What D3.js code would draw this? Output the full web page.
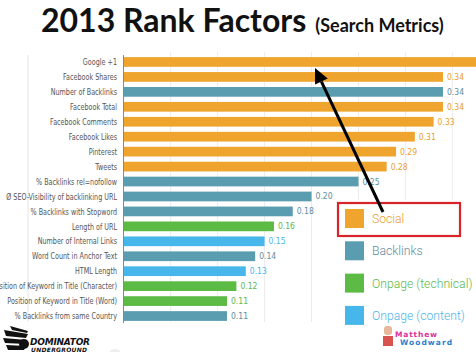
<!DOCTYPE html>
<html>
<head>
<meta charset="utf-8">
<script src="https://cdn.jsdelivr.net/npm/d3@7"></script>
<style>
  body { margin: 0; background: #fff; }
  svg { display: block; }
</style>
</head>
<body>
<div id="chart"></div>
<script>
// factor names, top to bottom
var factors = [
  "Google +1", "Facebook Shares", "Number of Backlinks", "Facebook Total",
  "Facebook Comments", "Facebook Likes", "Pinterest", "Tweets",
  "% Backlinks rel=nofollow", "Ø SEO-Visibility of backlinking URL",
  "% Backlinks with Stopword", "Length of URL", "Number of Internal Links",
  "Word Count in Anchor Text", "HTML Length",
  "Position of Keyword in Title (Character)", "Position of Keyword in Title (Word)",
  "% Backlinks from same Country"
];
var values = [0.38, 0.34, 0.34, 0.34, 0.33, 0.31, 0.29, 0.28, 0.25, 0.20,
  0.18, 0.16, 0.15, 0.14, 0.13, 0.12, 0.11, 0.11];
var groups = ["Social", "Social", "Backlinks", "Social", "Social", "Social",
  "Social", "Social", "Backlinks", "Backlinks", "Backlinks", "Onpage (technical)",
  "Onpage (content)", "Backlinks", "Onpage (content)", "Onpage (technical)",
  "Onpage (technical)", "Backlinks"];
var groupNames = ["Social", "Backlinks", "Onpage (technical)", "Onpage (content)"];
var gridTicks = [0.05, 0.10, 0.15, 0.20, 0.25, 0.30, 0.35];

var W = 476, H = 352;

var barColor = d3.scaleOrdinal()
  .domain(groupNames)
  .range(["#efa52d", "#5a9cb0", "#5cbb45", "#47b6ea"]);
var textColor = d3.scaleOrdinal()
  .domain(groupNames)
  .range(["#e9a030", "#5d8d9e", "#5cb84a", "#4bb6ea"]);

var svg = d3.select("#chart").append("svg")
  .attr("width", W)
  .attr("height", H);

var x = d3.scaleLinear().domain([0, 0.35]).range([123.7, 452.4]);
var y = d3.scaleBand()
  .domain(factors)
  .range([54.5, 323.5])
  .paddingInner(0.35)
  .paddingOuter(0.175);

// title
var title = svg.append("text")
  .attr("x", 41)
  .attr("y", 32)
  .style("font-family", "Lato, 'Open Sans', sans-serif")
  .style("font-weight", "bold")
  .attr("fill", "#111");
title.append("tspan").style("font-size", "32px").text("2013 Rank Factors");
title.append("tspan").attr("dx", 9).style("font-size", "18px").text("(Search Metrics)");

// faint left border
svg.append("line")
  .attr("x1", 28).attr("x2", 28)
  .attr("y1", 55).attr("y2", 322)
  .attr("stroke", "#e4e4e4");

// vertical grid
svg.selectAll(".grid")
  .data(gridTicks)
  .enter().append("line")
  .attr("class", "grid")
  .attr("x1", function(d) { return x(d); })
  .attr("x2", function(d) { return x(d); })
  .attr("y1", 52)
  .attr("y2", 322)
  .attr("stroke", "#ececec");

// bars
svg.selectAll(".bar")
  .data(factors)
  .enter().append("rect")
  .attr("class", "bar")
  .attr("x", x(0))
  .attr("y", function(d) { return y(d); })
  .attr("width", function(d, i) { return x(values[i]) - x(0); })
  .attr("height", y.bandwidth())
  .attr("fill", function(d, i) { return barColor(groups[i]); });

// value labels
svg.selectAll(".val")
  .data(factors)
  .enter().append("text")
  .attr("class", "val")
  .attr("x", function(d, i) { return x(values[i]) + 4; })
  .attr("y", function(d) { return y(d) + y.bandwidth() / 2; })
  .attr("dy", "0.35em")
  .style("font-family", "'DejaVu Sans Condensed', sans-serif")
  .style("font-size", "8.5px")
  .attr("fill", function(d, i) { return textColor(groups[i]); })
  .text(function(d, i) { return values[i].toFixed(2); });

// category labels - the source font is narrow, so squeeze them horizontally
var cats = svg.selectAll(".cat")
  .data(factors)
  .enter().append("text")
  .attr("class", "cat")
  .attr("x", 0)
  .attr("y", 0)
  .attr("dy", "0.35em")
  .attr("text-anchor", "end")
  .style("font-family", "'DejaVu Sans Condensed', sans-serif")
  .style("font-size", "9px")
  .attr("fill", "#555")
  .text(function(d) { return d; });

var ref = cats.filter(function(d, i) { return i === 9; }).node();
var k = Math.min(1, 111 / ref.getComputedTextLength());
cats.attr("transform", function(d) {
  return "translate(117," + (y(d) + y.bandwidth() / 2) + ") scale(" + k + ",1)";
});

// axis line
svg.append("line")
  .attr("x1", 123.5).attr("x2", 123.5)
  .attr("y1", 55).attr("y2", 323)
  .attr("stroke", "#888");

// legend background covers the grid
svg.append("rect")
  .attr("x", 330).attr("y", 200)
  .attr("width", W - 330).attr("height", 125)
  .attr("fill", "#fff");

var legend = svg.selectAll(".leg")
  .data(groupNames)
  .enter().append("g")
  .attr("class", "leg")
  .attr("transform", function(d, i) { return "translate(345," + (209 + i * 32.3) + ")"; });

legend.append("rect")
  .attr("width", 19).attr("height", 19)
  .attr("fill", function(d) { return barColor(d); });

legend.append("text")
  .attr("x", 27)
  .attr("y", 14)
  .style("font-family", "Roboto, sans-serif")
  .style("font-weight", 300)
  .style("font-size", "12.2px")
  .attr("fill", function(d) { return textColor(d); })
  .text(function(d) { return d; });

// red highlight box round "Social"
svg.append("rect")
  .attr("x", 338).attr("y", 203)
  .attr("width", 122).attr("height", 33)
  .attr("fill", "none")
  .attr("stroke", "#d8232a")
  .attr("stroke-width", 2.2);

// black arrow pointing at Google +1
var tail = [383, 212], tip = [315, 68];
var ang = Math.atan2(tip[1] - tail[1], tip[0] - tail[0]);
var headLen = 15, headW = 7;
var base = [tip[0] - headLen * Math.cos(ang), tip[1] - headLen * Math.sin(ang)];
svg.append("line")
  .attr("x1", tail[0]).attr("y1", tail[1])
  .attr("x2", base[0]).attr("y2", base[1])
  .attr("stroke", "#000")
  .attr("stroke-width", 3);
svg.append("polygon")
  .attr("points", [
    tip,
    [base[0] + headW * Math.sin(ang), base[1] - headW * Math.cos(ang)],
    [base[0] - headW * Math.sin(ang), base[1] + headW * Math.cos(ang)]
  ].map(function(p) { return p.join(","); }).join(" "))
  .attr("fill", "#000");

// watermark logos (rough)
var dom = svg.append("g");
dom.append("path")
  .attr("d", "M4,330 L28,334 L26,338 L6,336 Z M3,338 L27,340 L26,344 L5,343 Z M6,345 L26,346 L24,350 L8,350 Z M10,326 L28,331 L27,333 L12,330 Z")
  .attr("fill", "#111");
dom.append("circle").attr("cx", 24).attr("cy", 344).attr("r", 5).attr("fill", "#111");
dom.append("text")
  .attr("x", 30).attr("y", 345)
  .style("font-family", "'DejaVu Sans', sans-serif")
  .style("font-weight", "bold").style("font-style", "italic")
  .style("font-size", "9px")
  .attr("textLength", 60)
  .attr("fill", "#111")
  .text("DOMINATOR");
dom.append("text")
  .attr("x", 31).attr("y", 352)
  .style("font-family", "'DejaVu Sans', sans-serif")
  .style("font-weight", "bold").style("font-style", "italic")
  .style("font-size", "6px")
  .attr("textLength", 56)
  .attr("fill", "#111")
  .text("UNDERGROUND");

svg.append("circle").attr("cx", 115).attr("cy", 356).attr("r", 7).attr("fill", "#eee");

var mw = svg.append("g");
mw.append("rect").attr("x", 384).attr("y", 326).attr("width", 8).attr("height", 9).attr("rx", 3).attr("fill", "#e8b89a");
mw.append("rect").attr("x", 383).attr("y", 336).attr("width", 10).attr("height", 10).attr("fill", "#d9534f");
mw.append("text")
  .attr("x", 395).attr("y", 337)
  .style("font-family", "'DejaVu Sans', sans-serif")
  .style("font-weight", "bold").style("font-size", "7.5px")
  .attr("textLength", 42)
  .attr("fill", "#e0309a")
  .text("Matthew");
mw.append("text")
  .attr("x", 400).attr("y", 345)
  .style("font-family", "'DejaVu Sans', sans-serif")
  .style("font-weight", "bold").style("font-size", "7.5px")
  .attr("textLength", 52)
  .attr("fill", "#2a7fd0")
  .text("Woodward");
</script>
</body>
</html>
